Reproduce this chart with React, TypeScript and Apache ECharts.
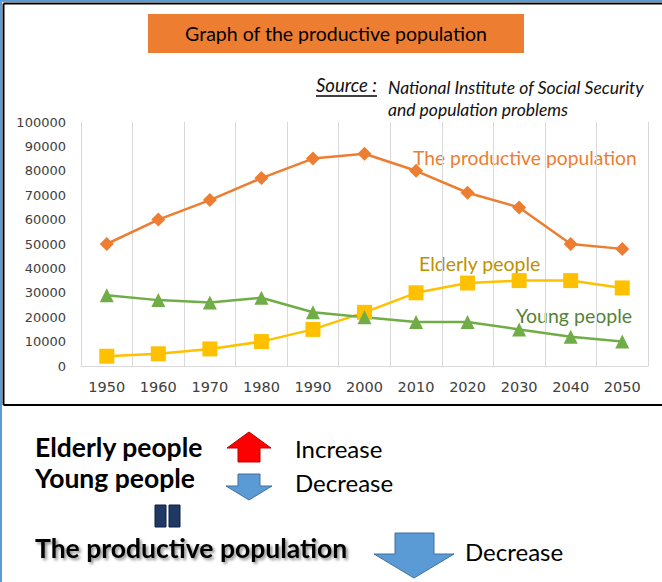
import React, { useEffect, useRef } from "react";
import * as echarts from "echarts";

const years = ["1950", "1960", "1970", "1980", "1990", "2000", "2010", "2020", "2030", "2040", "2050"];
const productive = [50000, 60000, 68000, 77000, 85000, 87000, 80000, 71000, 65000, 50000, 48000];
const elderly = [4000, 5000, 7000, 10000, 15000, 22000, 30000, 34000, 35000, 35000, 32000];
const young = [29000, 27000, 26000, 28000, 22000, 20000, 18000, 18000, 15000, 12000, 10000];

const FONT = "Lato, 'Noto Sans', sans-serif";

export default function App() {
  const ref = useRef<HTMLDivElement>(null);
  useEffect(() => {
    const chart = echarts.init(ref.current!, undefined, { renderer: "svg" });
    const blue = "#5B9BD5";
    const blueBorder = "#41719C";
    chart.setOption({
      animation: false,
      backgroundColor: "#ffffff",
      grid: { left: 81, right: 14, top: 122, bottom: 216, containLabel: false },
      xAxis: {
        type: "category",
        data: years,
        boundaryGap: true,
        axisLine: { lineStyle: { color: "#d9d9d9", width: 1 } },
        axisTick: { show: false },
        splitLine: { show: true, lineStyle: { color: "#d9d9d9", width: 1 } },
        axisLabel: { color: "#404040", fontSize: 14.5, fontFamily: "'DejaVu Sans'", margin: 13 },
      },
      yAxis: {
        type: "value",
        min: 0,
        max: 100000,
        interval: 10000,
        axisLine: { show: false },
        axisTick: { show: false },
        splitLine: { show: false },
        axisLabel: {
          color: "#404040", fontSize: 13, fontFamily: "'DejaVu Sans'", margin: 15,
          formatter: (v: number) => String(v),
        },
      },
      series: [
        {
          name: "The productive population",
          type: "line",
          data: productive,
          symbol: "diamond",
          symbolSize: 14,
          itemStyle: { color: "#ED7D31" },
          lineStyle: { color: "#ED7D31", width: 2.5 },
        },
        {
          name: "Elderly people",
          type: "line",
          data: elderly,
          symbol: "rect",
          symbolSize: 15,
          itemStyle: { color: "#FFC000" },
          lineStyle: { color: "#FFC000", width: 2.5 },
        },
        {
          name: "Young people",
          type: "line",
          data: young,
          symbol: "triangle",
          symbolSize: 14,
          itemStyle: { color: "#70AD47" },
          lineStyle: { color: "#70AD47", width: 2.5 },
        },
      ],
      graphic: [
        { type: "rect", shape: { x: 0, y: 0, width: 662, height: 2 }, style: { fill: blue } },
        { type: "rect", shape: { x: 0, y: 0, width: 2, height: 582 }, style: { fill: blue } },
        { type: "line", shape: { x1: 3.5, y1: 3.5, x2: 662, y2: 3.5 }, style: { stroke: "#000", lineWidth: 2 } },
        { type: "line", shape: { x1: 3.5, y1: 3.5, x2: 3.5, y2: 405 }, style: { stroke: "#000", lineWidth: 2 } },
        { type: "line", shape: { x1: 3.5, y1: 405, x2: 662, y2: 405 }, style: { stroke: "#000", lineWidth: 2 } },
        { type: "rect", shape: { x: 148, y: 14, width: 376, height: 39 }, style: { fill: "#ED7D31" } },
        {
          type: "text", x: 336, y: 33,
          style: { text: "Graph of the productive population", fill: "#000", font: `19.5px ${FONT}`, align: "center", verticalAlign: "middle" },
        },
        {
          type: "text", x: 316, y: 85,
          style: { text: "Source :", fill: "#111", font: `italic 18.5px ${FONT}`, align: "left", verticalAlign: "middle" },
        },
        { type: "line", shape: { x1: 316, y1: 96, x2: 377, y2: 96 }, style: { stroke: "#000", lineWidth: 1.5 } },
        {
          type: "text", x: 388, y: 87,
          style: { text: "National Institute of Social Security", fill: "#111", font: `italic 17.5px ${FONT}`, align: "left", verticalAlign: "middle" },
        },
        {
          type: "text", x: 388, y: 109,
          style: { text: "and population problems", fill: "#111", font: `italic 17.5px ${FONT}`, align: "left", verticalAlign: "middle" },
        },
        {
          type: "text", x: 413, y: 157,
          style: { text: "The productive population", fill: "#ED7D31", font: `19.3px ${FONT}`, align: "left", verticalAlign: "middle" },
        },
        {
          type: "text", x: 419, y: 263,
          style: { text: "Elderly people", fill: "#BF9000", font: `19.5px ${FONT}`, align: "left", verticalAlign: "middle" },
        },
        {
          type: "text", x: 516, y: 315,
          style: { text: "Young people", fill: "#548235", font: `19.5px ${FONT}`, align: "left", verticalAlign: "middle" },
        },
        {
          type: "text", x: 35, y: 447,
          style: { text: "Elderly people", fill: "#000", font: `bold 26.5px ${FONT}`, align: "left", verticalAlign: "middle" },
        },
        {
          type: "text", x: 35, y: 478,
          style: { text: "Young people", fill: "#000", font: `bold 26.5px ${FONT}`, align: "left", verticalAlign: "middle" },
        },
        {
          type: "polygon",
          shape: { points: [[249, 432], [271, 448], [260, 448], [260, 462], [238, 462], [238, 448], [227, 448]] },
          style: { fill: "#FF0000", stroke: "#C00000", lineWidth: 1 },
        },
        {
          type: "text", x: 295, y: 448,
          style: { text: "Increase", fill: "#000", font: `24px ${FONT}`, align: "left", verticalAlign: "middle" },
        },
        {
          type: "polygon",
          shape: { points: [[238, 474], [260, 474], [260, 486], [272, 486], [249, 500], [226, 486], [238, 486]] },
          style: { fill: blue, stroke: blueBorder, lineWidth: 1 },
        },
        {
          type: "text", x: 295, y: 482,
          style: { text: "Decrease", fill: "#000", font: `24px ${FONT}`, align: "left", verticalAlign: "middle" },
        },
        { type: "rect", shape: { x: 155, y: 505, width: 11, height: 22 }, style: { fill: "#203864", stroke: "#0f1f40", lineWidth: 1 } },
        { type: "rect", shape: { x: 169, y: 505, width: 11, height: 22 }, style: { fill: "#203864", stroke: "#0f1f40", lineWidth: 1 } },
        {
          type: "text", x: 35, y: 548,
          style: {
            text: "The productive population", fill: "#000", font: `bold 26.5px ${FONT}`, align: "left", verticalAlign: "middle",
            textShadowColor: "rgba(0,0,0,0.45)", textShadowBlur: 3, textShadowOffsetX: 2, textShadowOffsetY: 2,
          },
        },
        {
          type: "polygon",
          shape: { points: [[395, 533], [434, 533], [434, 554], [454, 554], [414, 578], [374, 554], [395, 554]] },
          style: { fill: blue, stroke: blueBorder, lineWidth: 1 },
        },
        {
          type: "text", x: 465, y: 551,
          style: { text: "Decrease", fill: "#000", font: `24px ${FONT}`, align: "left", verticalAlign: "middle" },
        },
      ],
    });
    return () => chart.dispose();
  }, []);
  return <div ref={ref} style={{ position: "fixed", left: 0, top: 0, width: 662, height: 582 }} />;
}
